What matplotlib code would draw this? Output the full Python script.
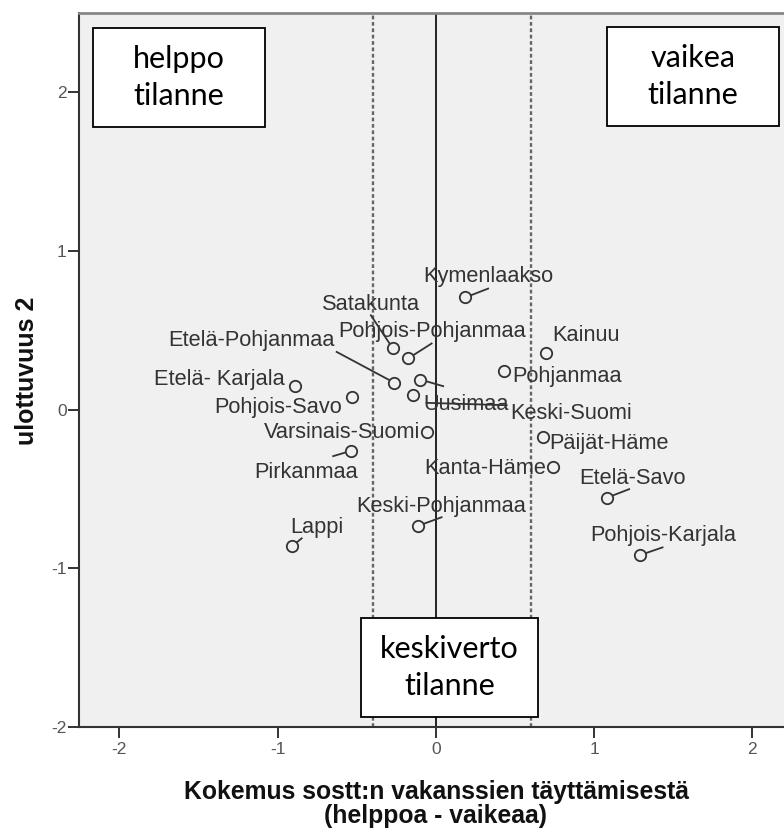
import matplotlib
matplotlib.use("Agg")
import matplotlib.pyplot as plt
from matplotlib.patches import Rectangle

plt.rcParams["axes.unicode_minus"] = False
plt.rcParams["font.family"] = ["Liberation Sans", "DejaVu Sans"]

# ---- data ----
regions = ["Kymenlaakso", "Satakunta", "Pohjois-Pohjanmaa", "Etelä-Pohjanmaa",
           "Kainuu", "Pohjanmaa", "Keski-Suomi", "Uusimaa", "Etelä- Karjala",
           "Pohjois-Savo", "Varsinais-Suomi", "Pirkanmaa", "Päijät-Häme",
           "Kanta-Häme", "Etelä-Savo", "Keski-Pohjanmaa", "Lappi", "Pohjois-Karjala"]
dim1 = [0.185, -0.274, -0.175, -0.265, 0.695, 0.431, -0.099, -0.143, -0.891,
        -0.533, -0.059, -0.539, 0.674, 0.741, 1.078, -0.112, -0.908, 1.289]
dim2 = [0.707, 0.389, 0.323, 0.171, 0.354, 0.243, 0.190, 0.091, 0.148,
        0.077, -0.140, -0.260, -0.175, -0.360, -0.556, -0.732, -0.860, -0.917]
x_ticks = [-2, -1, 0, 1, 2]
y_ticks = [-2, -1, 0, 1, 2]
ref_lines = [-0.4, 0.6]
x_label = "Kokemus sostt:n vakanssien täyttämisestä\n(helppoa - vaikeaa)"
y_label = "ulottuvuus 2"
box_texts = ["helppo\ntilanne", "vaikea\ntilanne", "keskiverto\ntilanne"]

# ---- layout (label placement, in data units) ----
label_pos = {
    "Kymenlaakso": (-0.080, 0.805, "left"),
    "Satakunta": (-0.722, 0.631, "left"),
    "Pohjois-Pohjanmaa": (-0.617, 0.455, "left"),
    "Etelä-Pohjanmaa": (-0.638, 0.400, "right"),
    "Kainuu": (0.737, 0.431, "left"),
    "Pohjanmaa": (0.485, 0.175, "left"),
    "Keski-Suomi": (0.472, -0.060, "left"),
    "Uusimaa": (-0.080, 0.001, "left"),
    "Etelä- Karjala": (-0.954, 0.154, "right"),
    "Pohjois-Savo": (-0.596, -0.024, "right"),
    "Varsinais-Suomi": (-0.101, -0.181, "right"),
    "Pirkanmaa": (-0.491, -0.433, "right"),
    "Päijät-Häme": (0.716, -0.251, "left"),
    "Kanta-Häme": (0.699, -0.408, "right"),
    "Etelä-Savo": (0.903, -0.471, "left"),
    "Keski-Pohjanmaa": (-0.501, -0.644, "left"),
    "Lappi": (-0.918, -0.780, "left"),
    "Pohjois-Karjala": (0.977, -0.828, "left"),
}
leader_end = {
    "Kymenlaakso": (0.330, 0.763),
    "Satakunta": (-0.411, 0.595),
    "Pohjois-Pohjanmaa": (-0.027, 0.417),
    "Etelä-Pohjanmaa": (-0.627, 0.364),
    "Keski-Suomi": (0.046, 0.148),
    "Pirkanmaa": (-0.649, -0.293),
    "Etelä-Savo": (1.221, -0.501),
    "Keski-Pohjanmaa": (0.036, -0.678),
    "Lappi": (-0.848, -0.811),
    "Pohjois-Karjala": (1.432, -0.868),
}
extra_segment = ((-0.059, 0.043), (0.447, 0.028))

W, H = 784, 830
fig = plt.figure(figsize=(W / 100, H / 100), dpi=100)
fig.patch.set_facecolor("white")
ax = fig.add_axes([79 / W, 1 - 727 / H, (792 - 79) / W, (727 - 13) / H])
bg = "#F0F0F0"
ax.set_facecolor(bg)
ax.set_xlim(-2.255, 2.25)
ax.set_ylim(-2.0, 2.5)

# reference lines
ax.axvline(0, color="#222222", lw=1.4, zorder=1)
for xv in ref_lines:
    ax.axvline(xv, color="#666666", lw=1.7, ls=(0, (1.6, 1.1)), zorder=1)

txtc = "#333333"
# leaders
for name, x, y in zip(regions, dim1, dim2):
    if name in leader_end:
        xe, ye = leader_end[name]
        ax.plot([x, xe], [y, ye], color=txtc, lw=1.3, zorder=2)
(sx0, sy0), (sx1, sy1) = extra_segment
ax.plot([sx0, sx1], [sy0, sy1], color=txtc, lw=1.3, zorder=2)

# points
ax.plot(dim1, dim2, ls="none", marker="o", ms=8.2, mfc=bg, mec=txtc, mew=1.3, zorder=3)

# labels
for name in regions:
    lx, ly, ha = label_pos[name]
    ax.text(lx, ly, name, ha=ha, va="baseline", fontsize=15.7, color=txtc, zorder=4)

# axes styling
ax.set_xticks(x_ticks)
ax.set_yticks(y_ticks)
ax.tick_params(axis="both", length=8, width=1.4, color="#333333",
               labelsize=12.5, labelcolor="#555555")
ax.tick_params(axis="x", pad=3)
ax.tick_params(axis="y", pad=1)
ax.spines["right"].set_visible(False)
ax.spines["left"].set_color("#333333")
ax.spines["left"].set_linewidth(1.5)
ax.spines["bottom"].set_color("#333333")
ax.spines["bottom"].set_linewidth(1.5)
ax.spines["top"].set_color("#888888")
ax.spines["top"].set_linewidth(2.0)

fig.text(27 / W, 1 - 371 / H, y_label, rotation=90, ha="center", va="center",
         fontsize=18, fontweight="bold", color="#111111")
fig.text(436 / W, 1 - 804 / H, x_label, ha="center", va="center",
         fontsize=17.8, fontweight="bold", color="#111111", linespacing=1.05)

# annotation boxes
boxes = [(92.7, 28.3, 265.0, 126.7), (606.7, 27.3, 779.3, 126.0), (361.0, 618.3, 537.7, 716.7)]
for (x0, y0, x1, y1), t in zip(boxes, box_texts):
    r = Rectangle((x0 / W, 1 - y1 / H), (x1 - x0) / W, (y1 - y0) / H,
                  transform=fig.transFigure, facecolor="white", edgecolor="black",
                  lw=1.3, zorder=10)
    fig.add_artist(r)
    fig.text((x0 + x1) / 2 / W, 1 - (y0 + y1) / 2 / H, t, ha="center", va="center",
             fontsize=22, family=["Lato", "DejaVu Sans"], color="#000000",
             linespacing=1.38, zorder=11)

fig.savefig("out.png", dpi=100, facecolor="white")
